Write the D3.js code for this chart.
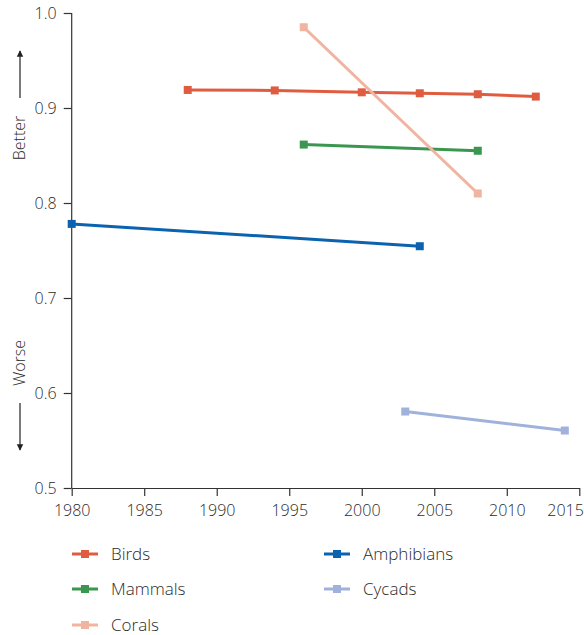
<!DOCTYPE html>
<html>
<head>
<meta charset="utf-8">
<script src="https://cdn.jsdelivr.net/npm/d3@7"></script>
<style>
  body { margin: 0; background: #fff; }
  svg text { font-family: "Open Sans", "Noto Sans", sans-serif; font-weight: 300; fill: #2b2b2b; }
  .axis path, .axis line { stroke: #333; stroke-width: 1.2; }
  .axis text { font-size: 16px; }
  .legend text { font-size: 17px; }
</style>
</head>
<body>
<div id="chart"></div>
<script>
// data
var names = ["Birds", "Mammals", "Corals", "Amphibians", "Cycads"]
var colors = ["#e05c40", "#3b9650", "#f0b4a0", "#0b63b0", "#a0b1dc"]
var birdsYears = [1988, 1994, 2000, 2004, 2008, 2012]
var birdsVals = [0.919, 0.9185, 0.9165, 0.9155, 0.9145, 0.912]
var mammalsYears = [1996, 2008]
var mammalsVals = [0.8615, 0.855]
var coralsYears = [1996, 2008]
var coralsVals = [0.985, 0.810]
var amphibiansYears = [1980, 2004]
var amphibiansVals = [0.778, 0.7545]
var cycadsYears = [2003, 2014]
var cycadsVals = [0.5805, 0.5605]
var xTicks = [1980, 1985, 1990, 1995, 2000, 2005, 2010, 2015]
var yTicks = [0.5, 0.6, 0.7, 0.8, 0.9, 1.0]

var series = [
  {name: names[0], years: birdsYears, vals: birdsVals},
  {name: names[1], years: mammalsYears, vals: mammalsVals},
  {name: names[2], years: coralsYears, vals: coralsVals},
  {name: names[3], years: amphibiansYears, vals: amphibiansVals},
  {name: names[4], years: cycadsYears, vals: cycadsVals}
]

var width = 584, height = 635
var svg = d3.select("#chart").append("svg")
  .attr("width", width)
  .attr("height", height)

var x = d3.scaleLinear().domain([1980, 2015]).range([71.7, 579.3])
var y = d3.scaleLinear().domain([0.5, 1.0]).range([488, 13])

var color = d3.scaleOrdinal().domain(names).range(colors)

// axes
var xAxis = svg.append("g")
  .attr("class", "axis")
  .attr("transform", "translate(0," + y(0.5) + ")")
  .call(d3.axisBottom(x).tickValues(xTicks).tickFormat(d3.format("d")).tickSizeInner(8).tickSizeOuter(0).tickPadding(9))
xAxis.selectAll(".tick text").filter(function(d){ return d == 2015 })
  .attr("text-anchor", "end")
  .attr("dx", 4)

var yAxis = svg.append("g")
  .attr("class", "axis")
  .attr("transform", "translate(" + x(1980) + ",0)")
  .call(d3.axisLeft(y).tickValues(yTicks).tickFormat(d3.format(".1f")).tickSizeInner(8).tickSizeOuter(0).tickPadding(7))
yAxis.select(".domain").attr("d", "M0," + y(0.5) + "V" + y(1.0))

// better / worse
svg.append("defs").append("marker")
  .attr("id", "arrow")
  .attr("viewBox", "0 0 10 10")
  .attr("refX", 9).attr("refY", 5)
  .attr("markerWidth", 5).attr("markerHeight", 7)
  .attr("orient", "auto")
  .append("path")
  .attr("d", "M0,0 L10,5 L0,10 Z")
  .attr("fill", "#222")

svg.append("line")
  .attr("x1", 20).attr("x2", 20).attr("y1", 98).attr("y2", 51)
  .attr("stroke", "#333").attr("stroke-width", 1.3)
  .attr("marker-end", "url(#arrow)")
svg.append("line")
  .attr("x1", 20).attr("x2", 20).attr("y1", 403).attr("y2", 450)
  .attr("stroke", "#333").attr("stroke-width", 1.3)
  .attr("marker-end", "url(#arrow)")

svg.append("text")
  .attr("transform", "translate(25,138) rotate(-90)")
  .attr("text-anchor", "middle")
  .style("font-size", "16px")
  .text("Better")
svg.append("text")
  .attr("transform", "translate(25,363) rotate(-90)")
  .attr("text-anchor", "middle")
  .style("font-size", "16px")
  .text("Worse")

// lines
var line = d3.line()
  .x(function(d){ return x(d[0]) })
  .y(function(d){ return y(d[1]) })

var g = svg.append("g")
series.forEach(function(s) {
  var pts = s.years.map(function(yr, i){ return [yr, s.vals[i]] })
  g.append("path")
    .datum(pts)
    .attr("d", line)
    .attr("fill", "none")
    .attr("stroke", color(s.name))
    .attr("stroke-width", 3)
  g.selectAll(null)
    .data(pts)
    .enter().append("rect")
    .attr("x", function(d){ return x(d[0]) - 4 })
    .attr("y", function(d){ return y(d[1]) - 4 })
    .attr("width", 8)
    .attr("height", 8)
    .attr("fill", color(s.name))
})

// legend
var legendPos = [[72, 554], [72, 589], [72, 625], [324, 554], [324, 589]]
var legend = svg.append("g").attr("class", "legend")
names.forEach(function(n, i) {
  var p = legendPos[i]
  legend.append("line")
    .attr("x1", p[0]).attr("x2", p[0] + 26)
    .attr("y1", p[1]).attr("y2", p[1])
    .attr("stroke", color(n)).attr("stroke-width", 3)
  legend.append("rect")
    .attr("x", p[0] + 9).attr("y", p[1] - 4)
    .attr("width", 8).attr("height", 8)
    .attr("fill", color(n))
  legend.append("text")
    .attr("x", p[0] + 39).attr("y", p[1])
    .attr("dy", "0.35em")
    .text(n)
})
</script>
</body>
</html>
